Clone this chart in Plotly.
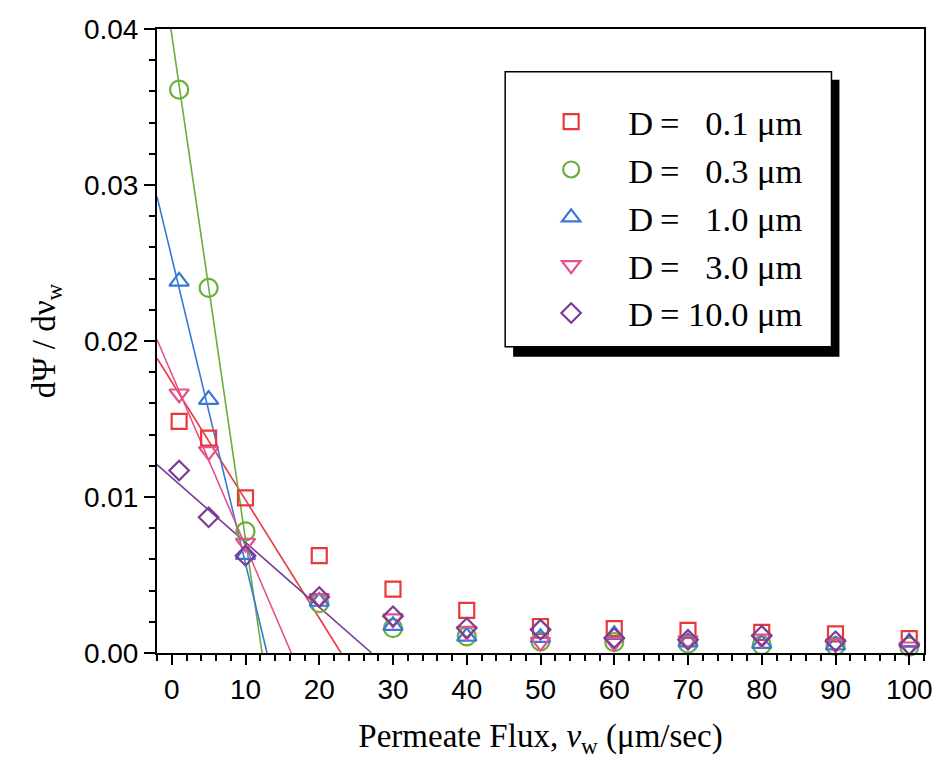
import plotly.graph_objects as go

# ---- data ----
flux = [1, 5, 10, 20, 30, 40, 50, 60, 70, 80, 90, 100]

series_names = ["D\u2009=\u00a0\u00a0\u00a00.1 \u03bcm",
                "D\u2009=\u00a0\u00a0\u00a00.3 \u03bcm",
                "D\u2009=\u00a0\u00a0\u00a01.0 \u03bcm",
                "D\u2009=\u00a0\u00a0\u00a03.0 \u03bcm",
                "D\u2009=\u00a010.0 \u03bcm"]

d_01 = [0.01485, 0.01378, 0.00994, 0.00624, 0.00410, 0.00273, 0.00170, 0.00156, 0.00145, 0.00132, 0.00122, 0.00092]
d_03 = [0.03611, 0.02340, 0.00780, 0.00320, 0.00160, 0.00106, 0.00075, 0.00070, 0.00060, 0.00050, 0.00045, 0.00040]
d_10 = [0.02382, 0.01624, 0.00630, 0.00330, 0.00175, 0.00106, 0.00098, 0.00117, 0.00070, 0.00060, 0.00050, 0.00068]
d_30 = [0.01662, 0.01292, 0.00705, 0.00350, 0.00220, 0.00140, 0.00070, 0.00070, 0.00080, 0.00090, 0.00060, 0.00040]
d_100 = [0.01170, 0.00870, 0.00624, 0.00359, 0.00235, 0.00160, 0.00150, 0.00096, 0.00085, 0.00110, 0.00075, 0.00053]

# fitted straight lines: start at left axis, end where they reach zero
fit_x_start = [-2, -2, -2, -2, -2]
fit_y_start = [0.0189, 0.0461, 0.02927, 0.0201, 0.01207]
fit_x_end = [22.96, 12.25, 12.92, 16.21, 27.10]
fit_y_end = [0, 0, 0, 0, 0]

x_ticks = [0, 10, 20, 30, 40, 50, 60, 70, 80, 90, 100]
y_ticks = [0.00, 0.01, 0.02, 0.03, 0.04]

colors = ["#e8383d", "#6aae3c", "#3a78d6", "#e6508c", "#7a3c95"]
symbols = ["square-open", "circle-open", "triangle-up-open", "triangle-down-open", "diamond-open"]
sizes = [15, 18, 17, 17, 15]
all_series = [d_01, d_03, d_10, d_30, d_100]

fig = go.Figure()

for i in range(5):
    fig.add_trace(go.Scatter(
        x=[fit_x_start[i], fit_x_end[i]], y=[fit_y_start[i], fit_y_end[i]],
        mode="lines", line=dict(color=colors[i], width=1.6),
        showlegend=False, hoverinfo="skip"))

for i in range(5):
    fig.add_trace(go.Scatter(
        x=flux, y=all_series[i], mode="markers", name=series_names[i],
        marker=dict(symbol=symbols[i], size=sizes[i], color=colors[i],
                    line=dict(color=colors[i], width=2.2)),
        cliponaxis=False))

# legend box with drop shadow
fig.add_shape(type="rect", xref="paper", yref="paper",
              x0=(515 - 157) / 771, x1=(843 - 157) / 771,
              y0=(653.3 - 357) / 624, y1=(653.3 - 80) / 624,
              fillcolor="black", line=dict(width=0), layer="above")
fig.add_shape(type="rect", xref="paper", yref="paper",
              x0=(507 - 157) / 771, x1=(835 - 157) / 771,
              y0=(653.3 - 347) / 624, y1=(653.3 - 72) / 624,
              fillcolor="white", line=dict(color="black", width=1.5), layer="above")

tickfont = dict(family="Liberation Sans", size=28, color="black")
titlefont = dict(family="Liberation Serif", size=33, color="black")

fig.update_layout(
    width=945, height=775,
    margin=dict(l=157, r=17, t=29, b=122),
    paper_bgcolor="white", plot_bgcolor="white",
    showlegend=True,
    legend=dict(x=(516 - 157) / 771, y=(653.3 - 93) / 624, xanchor="left", yanchor="top",
                bgcolor="rgba(0,0,0,0)", borderwidth=0, itemwidth=104,
                font=dict(family="Liberation Serif", size=34.5, color="black"),
                tracegroupgap=0),
    xaxis=dict(range=[-2, 102], tickvals=x_ticks, ticks="outside", ticklen=10, tickwidth=1.5,
               tickcolor="black",
               minor=dict(dtick=2, tick0=0, ticks="outside", ticklen=6, tickwidth=1.5, tickcolor="black"),
               showline=True, linecolor="black", linewidth=2, mirror=True,
               showgrid=False, zeroline=False, tickfont=tickfont,
               title=dict(text="Permeate Flux, <i>v</i><sub>w</sub> (\u03bcm/sec)", font=titlefont, standoff=20)),
    yaxis=dict(range=[0, 0.04], tickvals=y_ticks, tickformat=".2f", ticks="outside", ticklen=11,
               tickwidth=1.5, tickcolor="black",
               minor=dict(dtick=0.002, tick0=0, ticks="outside", ticklen=6, tickwidth=1.5, tickcolor="black"),
               showline=True, linecolor="black", linewidth=2, mirror=True,
               showgrid=False, zeroline=False, tickfont=tickfont,
               title=dict(text="d\u03a8 / d\u03bd<sub>w</sub>", font=titlefont, standoff=18)),
    xaxis2=dict(overlaying="x", side="top", anchor="y", range=[-2, 102], tickvals=x_ticks,
                ticks="inside", ticklen=10, tickwidth=1.5, tickcolor="black",
                minor=dict(dtick=2, tick0=0, ticks="inside", ticklen=6, tickwidth=1.5, tickcolor="black"),
                showticklabels=False, showgrid=False, zeroline=False, showline=False),
    yaxis2=dict(overlaying="y", side="right", anchor="x", range=[0, 0.04], tickvals=y_ticks,
                ticks="inside", ticklen=11, tickwidth=1.5, tickcolor="black",
                minor=dict(dtick=0.002, tick0=0, ticks="inside", ticklen=6, tickwidth=1.5, tickcolor="black"),
                showticklabels=False, showgrid=False, zeroline=False, showline=False),
)

fig.write_html("out.html")
